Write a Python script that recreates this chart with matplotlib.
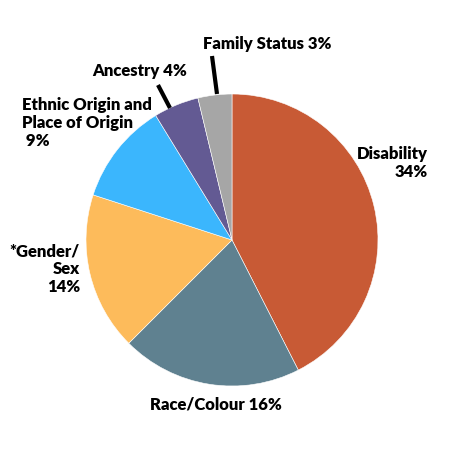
import matplotlib
matplotlib.use("Agg")
import matplotlib.pyplot as plt

# Share of complaints by ground (percent)
grounds = ["Disability", "Race/Colour", "*Gender/Sex", "Ethnic Origin and Place of Origin", "Ancestry", "Family Status"]
shares = [34, 16, 14, 9, 4, 3]
colours = ["#C85A35", "#5F8190", "#FDBB5B", "#3BB6FD", "#635A93", "#A6A6A6"]

plt.rcParams['font.family'] = ['Lato', 'DejaVu Sans']

H = 450  # flip helper: positions below

fig = plt.figure(figsize=(4.5, 4.5), dpi=100)
ax = fig.add_axes([0, 0, 1, 1])

wedges, _ = ax.pie(shares, colors=colours, startangle=90, counterclock=False,
                   center=(232, H - 240), radius=146,
                   wedgeprops=dict(linewidth=0.4, edgecolor='white'))
ax.set_xlim(0, 450)
ax.set_ylim(0, 450)
ax.set_aspect('equal')
ax.axis('off')

fs = 12
tkw = dict(fontsize=fs, fontweight='heavy', color='black', linespacing=1.15)

ax.text(428, H - 163, "Disability\n34%", ha='right', va='center', **tkw)
ax.text(216, H - 404, "Race/Colour 16%", ha='center', va='center', **tkw)
ax.text(80, H - 269, "*Gender/\nSex\n14%", ha='right', va='center', **tkw)
ax.text(22, H - 123, "Ethnic Origin and\nPlace of Origin\n 9%", ha='left', va='center', **tkw)
ax.text(140, H - 71, "Ancestry 4%", ha='center', va='center', **tkw)
ax.text(267, H - 44, "Family Status 3%", ha='center', va='center', **tkw)

# leader lines
ax.plot([158, 170], [H - 85, H - 108], color='black', lw=3, solid_capstyle='butt')
ax.plot([212, 217], [H - 56, H - 94], color='black', lw=3, solid_capstyle='butt')

fig.savefig("out.png", dpi=100)
